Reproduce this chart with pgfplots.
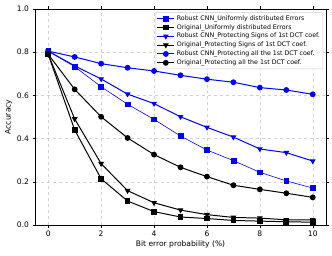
\documentclass[border=0pt]{standalone}
\usepackage{pgfplots}
\pgfplotsset{compat=1.18}
\usepackage{fontspec}
\setmainfont{DejaVu Sans}
\begin{document}
\begin{tikzpicture}[x=1bp,y=1bp]
\useasboundingbox (-35bp,-31bp) rectangle (297bp,225bp);
\begin{axis}[
  at={(0,0)}, anchor=south west,
  scale only axis, width=291bp, height=216bp,
  xmin=-0.5, xmax=10.5, ymin=0, ymax=1,
  xtick={0,2,4,6,8,10}, ytick={0,0.2,0.4,0.6,0.8,1.0},
  yticklabel style={/pgf/number format/fixed,/pgf/number format/fixed zerofill,/pgf/number format/precision=1},
  /pgf/number format/assume math mode=true,
  tick label style={font=\fontsize{7.6}{8.5}\selectfont},
  label style={font=\fontsize{7.6}{8.5}\selectfont},
  xlabel={Bit error probability (\%)}, ylabel={Accuracy},
  xlabel style={yshift=3bp}, ylabel style={yshift=-2bp},
  grid=major, grid style={dashed, gray!35, line width=0.4pt},
  tick align=outside, tick style={black, line width=0.5pt},
  major tick length=2.5bp,
  axis line style={line width=0.6pt},
  legend style={at={(0.99,0.985)}, anchor=north east, font=\fontsize{6.3}{7}\selectfont, draw=gray!40, rounded corners=1pt, inner sep=1pt, row sep=-1.4pt, cells={anchor=west}},
  legend cell align=left,
  every axis plot/.append style={mark size=2.4pt},
]
\addplot[blue, line width=0.6pt, mark=square*] coordinates {(0,0.805)(1,0.733)(2,0.640)(3,0.559)(4,0.489)(5,0.412)(6,0.347)(7,0.298)(8,0.244)(9,0.204)(10,0.171)};
\addlegendentry{Robust CNN\_Uniformly distributed Errors}
\addplot[black, line width=1pt, mark=square*] coordinates {(0,0.790)(1,0.440)(2,0.214)(3,0.111)(4,0.062)(5,0.037)(6,0.030)(7,0.021)(8,0.018)(9,0.015)(10,0.013)};
\addlegendentry{Original\_Uniformly distributed Errors}
\addplot[blue, line width=1pt, mark=triangle*, mark options={rotate=180}] coordinates {(0,0.805)(1,0.737)(2,0.676)(3,0.606)(4,0.562)(5,0.501)(6,0.452)(7,0.407)(8,0.352)(9,0.335)(10,0.296)};
\addlegendentry{Robust CNN\_Protecting Signs of 1st DCT coef.}
\addplot[black, line width=1pt, mark=triangle*, mark options={rotate=180}] coordinates {(0,0.790)(1,0.491)(2,0.284)(3,0.159)(4,0.103)(5,0.069)(6,0.048)(7,0.035)(8,0.032)(9,0.024)(10,0.024)};
\addlegendentry{Original\_Protecting Signs of 1st DCT coef.}
\addplot[blue, line width=1pt, mark=*] coordinates {(0,0.805)(1,0.778)(2,0.747)(3,0.728)(4,0.713)(5,0.693)(6,0.675)(7,0.661)(8,0.636)(9,0.625)(10,0.605)};
\addlegendentry{Robust CNN\_Protecting all the 1st DCT coef.}
\addplot[black, line width=1pt, mark=*] coordinates {(0,0.790)(1,0.628)(2,0.501)(3,0.403)(4,0.326)(5,0.267)(6,0.224)(7,0.184)(8,0.165)(9,0.147)(10,0.128)};
\addlegendentry{Original\_Protecting all the 1st DCT coef.}
\end{axis}
\end{tikzpicture}
\end{document}
